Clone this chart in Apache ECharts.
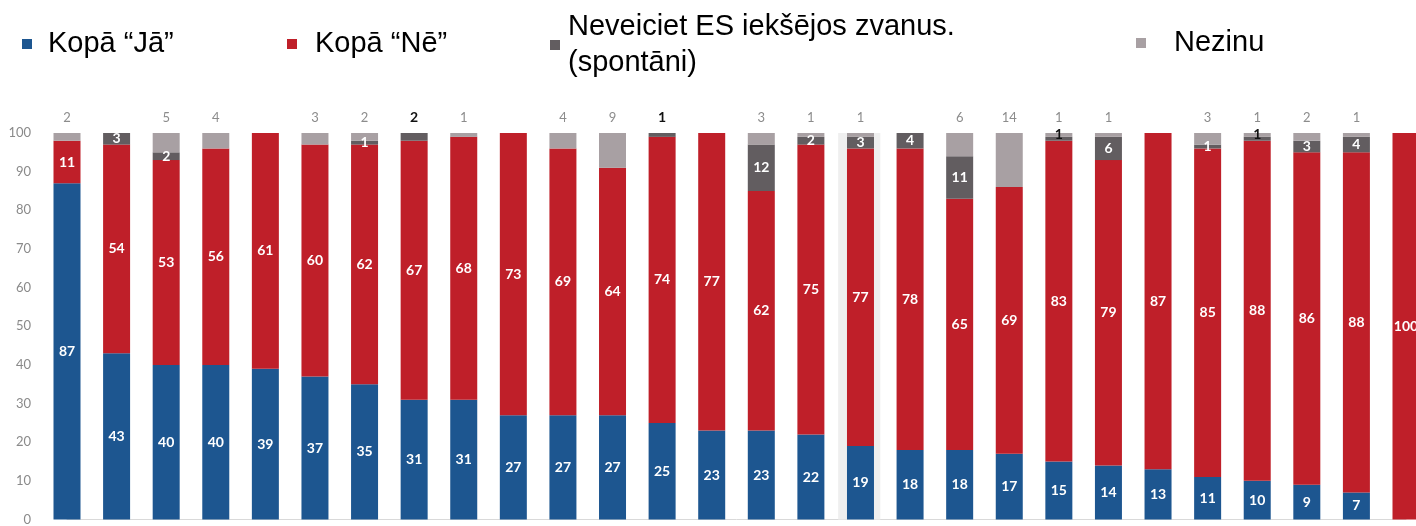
<!DOCTYPE html>
<html>
<head>
<meta charset="utf-8">
<script src="https://cdn.jsdelivr.net/npm/echarts@6/dist/echarts.min.js"></script>
<style>
  html, body { margin: 0; padding: 0; background: #fff; }
  #chart { width: 1416px; height: 526px; }
</style>
</head>
<body>
<div id="chart"></div>
<script>
// one bar per question, names are not visible in the source image
const categories = ['1', '2', '3', '4', '5', '6', '7', '8', '9', '10', '11', '12', '13', '14',
  '15', '16', '17', '18', '19', '20', '21', '22', '23', '24', '25', '26', '27', '28'];
const yesValues = [87, 43, 40, 40, 39, 37, 35, 31, 31, 27, 27, 27, 25, 23, 23, 22, 19, 18, 18, 17, 15, 14, 13, 11, 10, 9, 7, 0];
const noValues = [11, 54, 53, 56, 61, 60, 62, 67, 68, 73, 69, 64, 74, 77, 62, 75, 77, 78, 65, 69, 83, 79, 87, 85, 88, 86, 88, 100];
const notDoneValues = [0, 3, 2, 0, 0, 0, 1, 2, 0, 0, 0, 0, 1, 0, 12, 2, 3, 4, 11, 0, 1, 6, 0, 1, 1, 3, 4, 0];
const unknownValues = [2, 0, 5, 4, 0, 3, 2, 0, 1, 0, 4, 9, 0, 0, 3, 1, 1, 0, 6, 14, 1, 1, 0, 3, 1, 2, 1, 0];
const yTicks = [0, 10, 20, 30, 40, 50, 60, 70, 80, 90, 100];
const seriesNames = ['Kopā “Jā”', 'Kopā “Nē”', 'Neveiciet ES iekšējos zvanus.\n(spontāni)', 'Nezinu'];
const seriesColors = ['#1d5690', '#bf1f29', '#625d60', '#a8a0a3'];
const highlightIndex = 16;

const chart = echarts.init(document.getElementById('chart'));

const insideLabel = {
  show: true,
  position: 'inside',
  color: '#fff',
  fontFamily: 'Lato',
  fontWeight: 'bold',
  fontSize: 14,
  formatter: (p) => (p.value ? p.value : '')
};

// small "not done" values sit above the bar or in black, like the source
const notDoneData = notDoneValues.map((v, i) => {
  if (v && unknownValues[i] === 0 && v <= 2) {
    return { value: v, label: { position: 'top', distance: 9, color: '#111' } };
  }
  if (v === 1 && unknownValues[i] === 1) {
    return { value: v, label: { color: '#111', offset: [0, -4] } };
  }
  return v;
});

const legendBase = {
  orient: 'vertical',
  padding: 0,
  itemWidth: 10,
  itemHeight: 10,
  icon: 'rect',
  selectedMode: false
};

const barBase = { type: 'bar', stack: 'total', barWidth: 27, clip: false };

const option = {
  backgroundColor: '#fff',
  animation: false,
  legend: [
    Object.assign({}, legendBase, {
      data: [seriesNames[0]], left: 22, top: 22,
      textStyle: { fontFamily: 'Liberation Sans', fontSize: 29, lineHeight: 30, color: '#000', padding: [14, 0, 0, 11] }
    }),
    Object.assign({}, legendBase, {
      data: [seriesNames[1]], left: 287, top: 22,
      textStyle: { fontFamily: 'Liberation Sans', fontSize: 29, lineHeight: 30, color: '#000', padding: [14, 0, 0, 13] }
    }),
    Object.assign({}, legendBase, {
      data: [seriesNames[2]], left: 550, top: 1,
      textStyle: { fontFamily: 'Liberation Sans', fontSize: 29, lineHeight: 36, color: '#000', padding: [16, 0, 0, 3] }
    }),
    Object.assign({}, legendBase, {
      data: [seriesNames[3]], left: 1136, top: 24,
      textStyle: { fontFamily: 'Liberation Sans', fontSize: 29, lineHeight: 30, color: '#000', padding: [8, 0, 0, 23] }
    })
  ],
  // bars are centred on the ticks, the last one runs off the right edge
  grid: { left: 67, top: 133, width: 1339, height: 389, containLabel: false },
  xAxis: [{
    type: 'category',
    data: categories,
    boundaryGap: false,
    axisLine: { show: true, lineStyle: { color: '#d9d9d9', width: 1 } },
    axisTick: { show: false },
    axisLabel: { show: false },
    splitLine: { show: false }
  }, {
    // helper axis for the highlighted column behind one bar
    type: 'value',
    min: 0,
    max: categories.length - 1,
    show: false
  }],
  yAxis: {
    type: 'value',
    min: yTicks[0],
    max: yTicks[yTicks.length - 1],
    interval: 10,
    axisLine: { show: false },
    axisTick: { show: false },
    splitLine: { show: false },
    axisLabel: { color: '#8a8a8a', fontFamily: 'Lato', fontSize: 13, margin: 36 }
  },
  series: [
    {
      type: 'line',
      xAxisIndex: 1,
      data: [],
      silent: true,
      z: 0,
      markArea: {
        silent: true,
        itemStyle: { color: '#efefef' },
        data: [[{ xAxis: highlightIndex - 0.45, yAxis: 0 }, { xAxis: highlightIndex + 0.4, yAxis: 100 }]]
      }
    },
    Object.assign({}, barBase, {
      name: seriesNames[0],
      itemStyle: { color: seriesColors[0] },
      data: yesValues, label: insideLabel
    }),
    Object.assign({}, barBase, {
      name: seriesNames[1],
      itemStyle: { color: seriesColors[1] },
      data: noValues, label: insideLabel
    }),
    Object.assign({}, barBase, {
      name: seriesNames[2],
      itemStyle: { color: seriesColors[2] },
      data: notDoneData, label: insideLabel
    }),
    Object.assign({}, barBase, {
      name: seriesNames[3],
      itemStyle: { color: seriesColors[3] },
      data: unknownValues,
      label: {
        show: true,
        position: 'top',
        distance: 9,
        color: '#8c8c8c',
        fontFamily: 'Lato',
        fontSize: 13,
        formatter: (p) => (p.value ? p.value : '')
      }
    })
  ]
};

chart.setOption(option);
</script>
</body>
</html>
